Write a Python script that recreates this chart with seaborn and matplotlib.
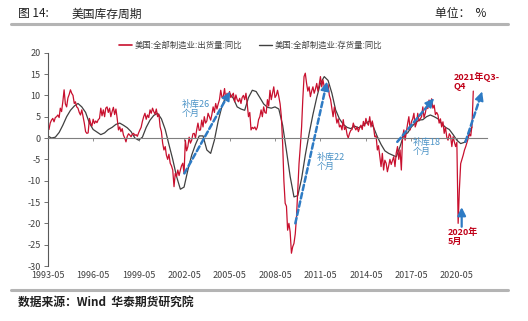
import numpy as np
import pandas as pd
import matplotlib
matplotlib.use("Agg")
import matplotlib.pyplot as plt
import matplotlib.dates as mdates
from matplotlib.lines import Line2D
import seaborn as sns

sns.set_theme(style="white")
plt.rcParams['font.family'] = ['Noto Sans CJK SC', 'DejaVu Sans']
plt.rcParams['axes.unicode_minus'] = False

# ---------------- data ----------------
shipments_name = "美国:全部制造业:出货量:同比"
inventory_name = "美国:全部制造业:存货量:同比"

# monthly, 1993-05 .. 2021-06
shipments_yoy = [
    3.0, 2.0, 3.5, 4.2, 4.6, 3.8, 4.8, 5.0,                          # 1993 May-Dec
    5.4, 4.8, 7.0, 6.2, 8.5, 11.3, 8.0, 7.3, 9.4, 10.2, 11.3, 10.5,  # 1994
    10.0, 8.1, 8.5, 7.3, 7.0, 6.0, 5.4, 6.6, 5.0, 3.5, 1.5, 1.1,     # 1995
    1.2, 4.6, 3.5, 2.8, 4.4, 3.4, 4.0, 3.6, 4.3, 4.6, 7.0, 5.2,      # 1996
    6.6, 5.0, 7.0, 7.3, 6.0, 7.0, 5.0, 6.2, 7.2, 5.5, 6.8, 4.6,      # 1997
    1.9, 2.6, 1.5, 2.2, 0.7, 0.0, -0.9, 0.4, 1.0, 0.7, 0.3, 0.9,     # 1998
    1.1, 0.6, 0.8, 0.4, 1.2, 1.9, 2.5, 3.9, 5.0, 5.8, 4.4, 5.4,      # 1999
    4.8, 6.6, 5.8, 7.0, 6.2, 5.6, 6.8, 5.0, 5.6, 2.6, 1.5, -1.2,     # 2000
    -2.8, -2.0, -4.0, -5.0, -3.8, -5.9, -6.5, -7.5, -11.4, -8.3, -9.0, -7.5,  # 2001
    -8.8, -7.5, -6.5, -5.9, -8.3, -0.5, -3.0, -2.0, 0.2, -1.2, -0.5, 1.0,     # 2002
    1.1, 0.0, 1.9, 3.5, 1.8, 1.9, 4.2, 2.6, 5.0, 3.5, 4.0, 5.8,      # 2003
    5.0, 4.2, 5.5, 7.3, 6.0, 8.1, 6.8, 8.0, 9.0, 11.2, 9.5, 9.7,     # 2004
    11.6, 9.0, 10.5, 9.2, 10.9, 9.5, 10.0, 10.5, 8.5, 10.1, 9.0, 8.5,  # 2005
    9.3, 8.1, 9.5, 10.0, 9.0, 10.5, 8.0, 5.0, 6.0, 1.9, 2.5, 2.2,    # 2006
    2.6, 1.9, 2.5, 4.3, 5.0, 6.6, 5.0, 7.3, 6.0, 5.8, 9.0, 7.5,      # 2007
    11.2, 9.0, 10.5, 12.0, 9.5, 10.0, 11.2, 9.7, 8.0, 5.0, -1.2, -10.0,  # 2008
    -15.3, -16.0, -21.6, -20.0, -22.0, -27.0, -25.5, -24.7, -22.5, -18.5, -12.2, -6.0,  # 2009
    -2.0, 2.6, 8.9, 14.4, 15.2, 12.8, 11.0, 12.0, 9.7, 11.0, 12.0, 10.5,  # 2010
    11.5, 12.8, 11.0, 12.5, 14.4, 12.0, 13.6, 12.0, 11.0, 11.2, 12.5, 10.0,  # 2011
    9.0, 7.0, 5.0, 7.3, 5.5, 3.5, 4.5, 2.6, 3.0, 1.9, 4.3, 2.0,      # 2012
    2.6, 0.8, 0.0, 1.1, 1.8, 2.0, 3.5, 2.5, 1.9, 2.6, 1.5, 2.4,      # 2013
    3.0, 2.0, 3.9, 2.8, 4.6, 3.5, 3.0, 5.0, 2.6, 4.0, 2.6, 0.3,      # 2014
    0.5, -2.8, -1.8, -4.4, -6.7, -3.6, -7.5, -5.2, -5.9, -7.9, -6.5, -5.0,  # 2015
    -6.2, -5.3, -4.4, -6.7, -3.5, -2.0, -5.0, -2.8, -7.5, 0.3, 1.9, -0.5,   # 2016
    1.5, 3.5, 5.0, 1.9, 3.8, 4.5, 5.8, 2.6, 3.5, 5.8, 4.0, 4.5,      # 2017
    5.0, 7.3, 4.8, 5.8, 7.5, 6.9, 8.9, 7.2, 9.2, 7.0, 7.7, 5.5,      # 2018
    6.0, 5.4, 3.5, 4.5, 2.6, 3.8, 1.1, 2.5, 0.2, -0.5, 1.0, 0.5,     # 2019
    -2.0, 0.3, -0.9, -2.0, -1.0, -20.0, -12.0, -6.0, -5.0, -4.0, -2.8, -2.0,  # 2020
    -1.0, 0.0, 1.0, 0.5, 3.0, 11.0,                                  # 2021 Jan-Jun
]

# quarterly, 1993-05 .. 2021-05
inventory_yoy = [
    0.5, 0.0, 0.2,                 # 1993 May, Aug, Nov
    1.3, 3.0, 5.0, 6.5,            # 1994 Feb, May, Aug, Nov
    7.5, 8.1, 7.3, 6.0,            # 1995
    3.5, 2.0, 1.4, 0.8,            # 1996
    1.2, 2.0, 2.5, 3.2,            # 1997
    3.5, 3.0, 2.4, 1.5,            # 1998
    0.0, -0.5, 0.2, 2.5,           # 1999
    4.2, 5.3, 5.8, 4.5,            # 2000
    2.0, -1.5, -5.0, -9.0,         # 2001
    -12.0, -11.5, -7.5, -4.0,      # 2002
    -1.5, 0.5, 0.5, -2.8,          # 2003
    -3.6, -0.5, 4.0, 7.5,          # 2004
    9.7, 10.5, 9.3, 7.3,           # 2005
    6.8, 6.5, 9.5, 11.2,           # 2006
    10.9, 9.5, 8.0, 7.2,           # 2007
    7.0, 7.3, 6.8, 3.0,            # 2008
    -3.0, -9.0, -13.8, -13.5,      # 2009
    -9.5, -4.0, 1.0, 5.5,          # 2010
    9.5, 12.8, 14.4, 13.5,         # 2011
    10.5, 6.6, 4.5, 3.2,           # 2012
    2.5, 2.2, 2.8, 2.4,            # 2013
    2.8, 3.5, 4.0, 2.5,            # 2014
    0.3, -1.5, -3.0, -3.6,         # 2015
    -4.0, -4.4, -2.0, 0.8,         # 2016
    1.2, 2.6, 3.5, 4.2,            # 2017
    4.3, 5.0, 5.4, 5.0,            # 2018
    4.5, 3.4, 2.5, 2.0,            # 2019
    0.8, -0.5, -1.3, -1.0,         # 2020
    0.5, 2.6,                      # 2021 Feb, May
]

tick_labels = ["1993-05", "1996-05", "1999-05", "2002-05", "2005-05",
               "2008-05", "2011-05", "2014-05", "2017-05", "2020-05"]
y_ticks = [20, 15, 10, 5, 0, -5, -10, -15, -20, -25, -30]

ship_dates = pd.date_range("1993-05-01", periods=len(shipments_yoy), freq="MS")
inv_dates = pd.date_range("1993-05-01", periods=len(inventory_yoy), freq="3MS")
df_ship = pd.DataFrame({"date": ship_dates, "value": shipments_yoy, "series": shipments_name})
df_inv = pd.DataFrame({"date": inv_dates, "value": inventory_yoy, "series": inventory_name})

RED = "#C8102E"
DARK = "#404040"
BLUE = "#2E7BC4"
BLUE_TXT = "#4A92C6"
ANN_RED = "#C00018"

def ydate(f):
    y = int(f)
    return mdates.date2num(pd.Timestamp(f"{y}-01-01") + pd.Timedelta(days=(f - y) * 365.25))

# ---------------- figure ----------------
fig = plt.figure(figsize=(5.28, 3.21), dpi=100)
ax = fig.add_axes([0.0903, 0.1713, 0.8315, 0.6645])

sns.lineplot(data=df_inv, x="date", y="value", color=DARK, lw=0.9, ax=ax,
             estimator=None, legend=False)
sns.lineplot(data=df_ship, x="date", y="value", color=RED, lw=0.9, ax=ax,
             estimator=None, legend=False)

ax.set_ylim(-30, 20)
ax.set_xlim(mdates.date2num(pd.Timestamp("1993-05-01")), ydate(2022.3))
ax.set_xlabel("")
ax.set_ylabel("")
ax.set_yticks(y_ticks)
ax.set_yticklabels([str(v) for v in y_ticks])
tick_pos = [mdates.date2num(pd.Timestamp(t + "-01")) for t in tick_labels]
ax.set_xticks(tick_pos)
ax.set_xticklabels(tick_labels)

for s in ["top", "right"]:
    ax.spines[s].set_visible(False)
ax.spines["left"].set_color("#595959")
ax.spines["left"].set_linewidth(0.8)
ax.spines["bottom"].set_position(("data", 0))
ax.spines["bottom"].set_color("#7F7F7F")
ax.spines["bottom"].set_linewidth(0.8)
ax.tick_params(axis="y", direction="out", length=3, width=0.6, color="#595959",
               labelsize=6.5, labelcolor="#404040", pad=2, left=True)
ax.tick_params(axis="x", direction="out", length=2, width=0.6, color="#7F7F7F",
               labelsize=6.5, labelcolor="#404040", pad=94, bottom=True)
ax.patch.set_alpha(0)

# ---------------- annotations ----------------
def dashed_arrow(x0, y0, x1, y1, color=BLUE):
    ax.annotate("", xy=(ydate(x1), y1), xytext=(ydate(x0), y0),
                arrowprops=dict(arrowstyle="-", color=color, lw=1.8,
                                linestyle=(0, (2.2, 1.2)), shrinkA=0, shrinkB=3))
    # short solid head
    p1 = ax.transData.transform((ydate(x1), y1))
    p0 = ax.transData.transform((ydate(x0), y0))
    d = (p1 - p0) / np.hypot(*(p1 - p0))
    back = -d * 6 * 72 / fig.dpi
    ax.annotate("", xy=(ydate(x1), y1), xytext=(back[0], back[1]),
                textcoords="offset points",
                arrowprops=dict(arrowstyle="-|>,head_length=0.45,head_width=0.22",
                                color=color, lw=1.2, shrinkA=0, shrinkB=0))

dashed_arrow(2002.35, -8.3, 2005.37, 10.9)
dashed_arrow(2009.67, -20.0, 2011.76, 13.2)
dashed_arrow(2016.40, -0.9, 2018.82, 9.3)
dashed_arrow(2020.90, -0.9, 2022.0, 10.9)

ax.annotate("", xy=(ydate(2020.65), -16.2), xytext=(ydate(2020.65), -20.8),
            arrowprops=dict(arrowstyle="-|>,head_length=0.4,head_width=0.2",
                            color=BLUE, lw=1.6, shrinkA=0, shrinkB=0))

ax.text(ydate(2002.15), 6.8, "补库26\n个月", color=BLUE_TXT, fontsize=6.5,
        va="center", ha="left", linespacing=1.05)
ax.text(ydate(2011.1), -5.6, "补库22\n个月", color=BLUE_TXT, fontsize=6.5,
        va="center", ha="left", linespacing=1.05)
ax.text(ydate(2017.4), -2.1, "补库18\n个月", color=BLUE_TXT, fontsize=6.5,
        va="center", ha="left", linespacing=1.05)
ax.text(ydate(2020.1), 13.3, "2021年Q3-\nQ4", color=ANN_RED, fontsize=6.5,
        fontweight="bold", va="center", ha="left", linespacing=1.05)
ax.text(ydate(2019.7), -23.2, "2020年\n5月", color=ANN_RED, fontsize=6.5,
        fontweight="bold", va="center", ha="left", linespacing=1.05)

# ---------------- legend ----------------
handles = [Line2D([0], [0], color=RED, lw=1.2), Line2D([0], [0], color=DARK, lw=1.0)]
fig.legend(handles, [shipments_name, inventory_name], loc="center",
           bbox_to_anchor=(0.475, 0.86), ncol=2, frameon=False, fontsize=6,
           handlelength=1.6, handletextpad=0.3, columnspacing=2.0,
           labelcolor="#404040")

# ---------------- header / footer ----------------
fig.text(18 / 528, 1 - 14 / 321, "图 14:", fontsize=8.5, va="center", ha="left", color="#202020")
fig.text(72 / 528, 1 - 14 / 321, "美国库存周期", fontsize=8.5, va="center", ha="left", color="#202020")
fig.text(435 / 528, 1 - 14 / 321, "单位：  %", fontsize=8.5, va="center", ha="left", color="#202020")
fig.add_artist(Line2D([11 / 528, 508 / 528], [1 - 23.5 / 321, 1 - 23.5 / 321],
                      color="#B4B4B4", lw=2.2, transform=fig.transFigure))
fig.add_artist(Line2D([11 / 528, 508 / 528], [1 - 289.5 / 321, 1 - 289.5 / 321],
                      color="#B4B4B4", lw=2.2, transform=fig.transFigure))
fig.text(18 / 528, 1 - 302 / 321, "数据来源：Wind  华泰期货研究院", fontsize=8.5,
         va="center", ha="left", color="#202020", fontweight="bold")

fig.savefig("out.png", dpi=100)
